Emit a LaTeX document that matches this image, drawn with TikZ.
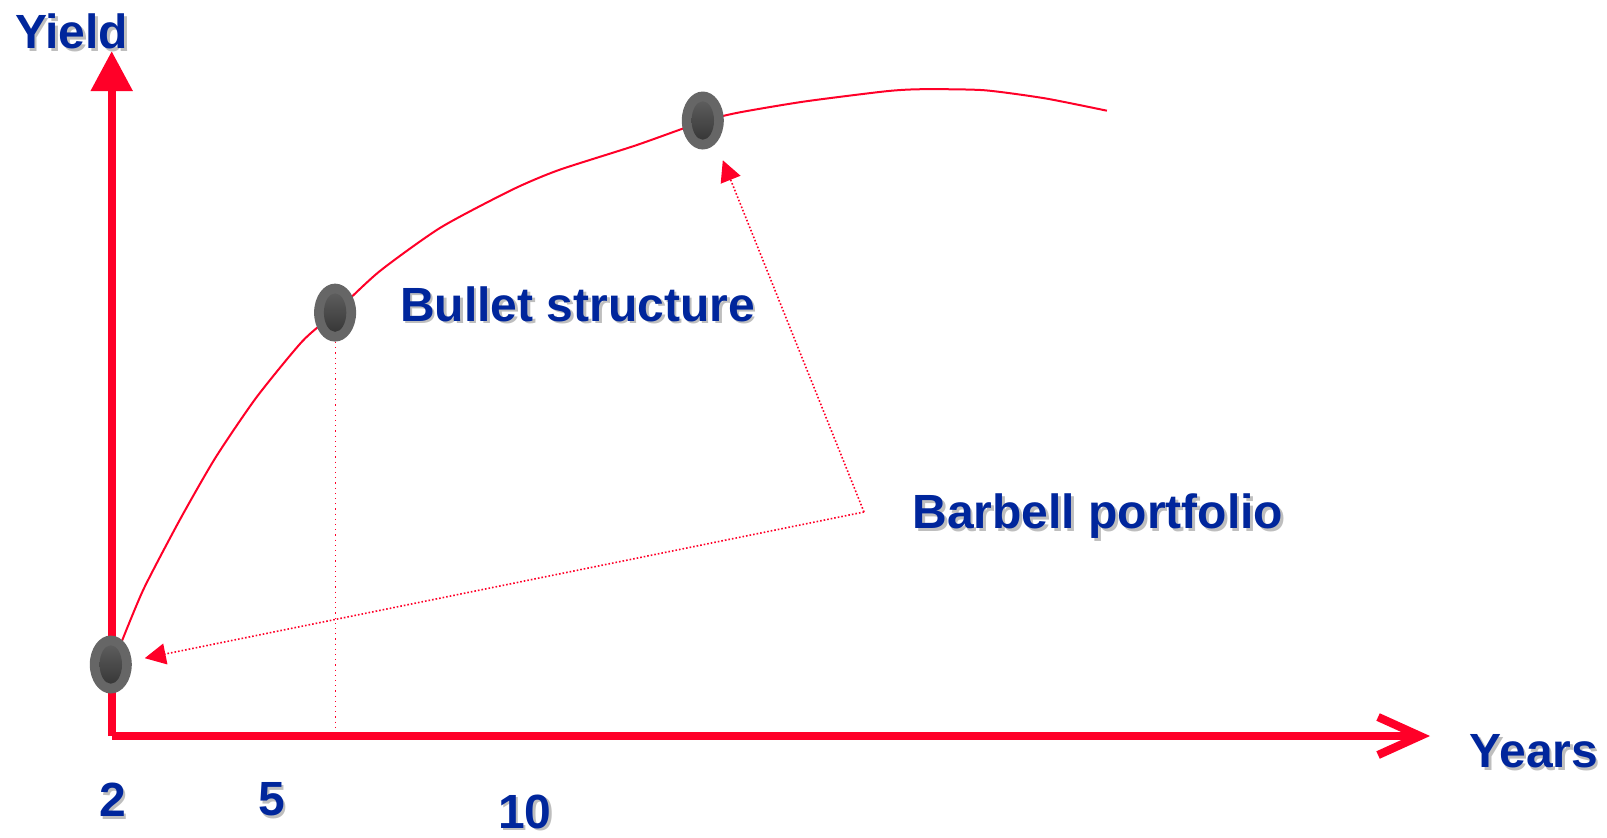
\documentclass[tikz,border=0pt]{standalone}
\usepackage{fontspec}
\setmainfont{Liberation Sans}
\usetikzlibrary{arrows.meta,shapes.geometric}
\definecolor{curvered}{RGB}{255,0,40}
\definecolor{labelblue}{RGB}{0,38,156}
\definecolor{shadowgray}{RGB}{190,190,190}
\newcommand{\shadowed}[1]{\makebox[0pt][l]{\hspace{1.3pt}\raisebox{-1.3pt}{\color{shadowgray}#1}}#1}
\tikzset{
  lbl/.style={text=labelblue,font=\fontsize{24}{28}\selectfont\bfseries,inner sep=0pt},
  axis/.style={curvered,line width=4.1pt},
  bond/.style={ellipse,fill=black!60,minimum width=21pt,minimum height=29pt,inner sep=0pt,
    path picture={\shade[top color=black!60,bottom color=black!82]
      (path picture bounding box.center) ellipse (5.6pt and 9.6pt);}},
  barbell/.style={curvered,densely dotted,line width=0.8pt,-{Triangle[length=10.5pt,width=10.5pt]}},
}
\begin{document}
\begin{tikzpicture}[x=0.5pt,y=-0.5pt]
\useasboundingbox (0,0) rectangle (1607,837);
\coordinate (origin) at (111.7,736);
\coordinate (ytip) at (111.7,51);
\coordinate (xtip) at (1430,736);
\draw[axis,-{Triangle[length=20pt,width=20pt]}] (origin) -- (ytip);
\draw[axis,-{Straight Barb[length=21pt,width=19pt]}] (origin) -- (xtip);
\draw[curvered,line width=1pt] plot[smooth,tension=0.4] coordinates {
  (120.9,643.6) (143.5,589.3) (179.4,520.6) (215.2,458.1) (256.2,397.7)
  (302.3,341.3) (335.1,312.6) (379.2,271.6) (440.7,227.5) (512.4,189.6)
  (558.6,170.1) (635.4,145.5) (703.1,121.5) (737.9,112.7) (804.5,101.5)
  (886.5,91.2) (922.4,89.2) (983.9,90.2) (1045.4,98.4) (1106.9,110.7)};
\node[bond] (short) at (110.8,664.5) {};
\node[bond] (mid) at (335.1,312.6) {};
\node[bond] (long) at (702.8,120.5) {};
\draw[curvered,dotted,line width=0.6pt] (mid.south) -- (mid.south |- origin);
\coordinate (bend) at (864,512);
\draw[barbell,shorten >=6.5pt] (bend) -- (short.10);
\draw[barbell,shorten >=9pt] (bend) -- (long.-60);
\node[lbl] (yieldlabel) at (71.7,33) {\shadowed{Yield}};
\node[lbl] (yearslabel) at (1534,753) {\shadowed{Years}};
\node[lbl] (twolabel) at (112.7,801) {\shadowed{2}};
\node[lbl] (fivelabel) at (271.6,801) {\shadowed{5}};
\node[lbl] (tenlabel) at (524.7,813) {\shadowed{10}};
\node[lbl,anchor=west] (bulletlabel) at (399.7,305.4) {\shadowed{Bullet structure}};
\node[lbl,anchor=west] (barbelllabel) at (912.1,517.5) {\shadowed{Barbell portfolio}};
\end{tikzpicture}
\end{document}
